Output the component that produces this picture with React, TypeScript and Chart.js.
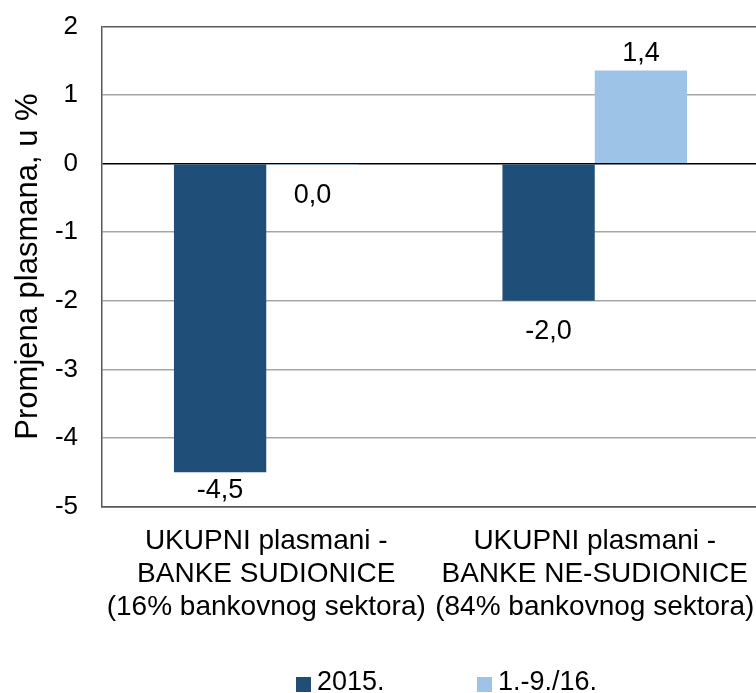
import React, { useEffect, useRef } from 'react';
import { Chart, registerables } from 'chart.js';

Chart.register(...registerables);

const categories: string[][] = [
  ['UKUPNI plasmani -', 'BANKE SUDIONICE', '(16% bankovnog sektora)'],
  ['UKUPNI plasmani -', 'BANKE NE-SUDIONICE', '(84% bankovnog sektora)'],
];
const seriesNames = ['2015.', '1.-9./16.'];
const values2015 = [-4.5, -2.0];
const values2016 = [-0.02, 1.36];
const seriesColors = ['#1F4E78', '#9DC3E6'];
const yMin = -5;
const yMax = 2;
const yStep = 1;
const yTitle = 'Promjena plasmana, u %';

const FONT = '"Liberation Sans", Arial, sans-serif';
const CLEAR = 'rgba(0,0,0,0)';

const fmt = (v: number) => (Math.round(v * 10) / 10).toFixed(1).replace('.', ',');

const valueLabels = {
  id: 'valueLabels',
  afterDatasetsDraw(chart: any) {
    const ctx = chart.ctx;
    ctx.save();
    ctx.font = `27px ${FONT}`;
    ctx.fillStyle = '#000';
    ctx.textAlign = 'center';
    ctx.textBaseline = 'middle';
    chart.data.datasets.forEach((ds: any, di: number) => {
      const meta = chart.getDatasetMeta(di);
      meta.data.forEach((el: any, i: number) => {
        const v = ds.data[i] as number;
        const y = v >= 0 ? el.y - 17 : Math.min(el.y + 31, chart.chartArea.bottom - 16);
        ctx.fillText(fmt(v), el.x, y);
      });
    });
    ctx.restore();
  },
};

const customLegend = {
  id: 'customLegend',
  afterDraw(chart: any) {
    const ctx = chart.ctx;
    ctx.save();
    ctx.font = `27px ${FONT}`;
    ctx.fillStyle = '#000';
    ctx.textAlign = 'left';
    ctx.textBaseline = 'alphabetic';
    const boxXs = [296, 477];
    const baseline = 690;
    chart.data.datasets.forEach((ds: any, i: number) => {
      const bx = boxXs[i];
      ctx.fillStyle = ds.backgroundColor;
      ctx.fillRect(bx, 677, 15, 15);
      ctx.fillStyle = '#000';
      ctx.fillText(ds.label, bx + 21, baseline);
    });
    ctx.restore();
  },
};

export default function App() {
  const ref = useRef<HTMLCanvasElement | null>(null);

  useEffect(() => {
    if (!ref.current) return;
    const chart = new Chart(ref.current, {
      type: 'bar',
      data: {
        labels: categories,
        datasets: [
          { label: seriesNames[0], data: values2015, backgroundColor: seriesColors[0], borderWidth: 0 },
          { label: seriesNames[1], data: values2016, backgroundColor: seriesColors[1], borderWidth: 0 },
        ],
      },
      options: {
        responsive: false,
        animation: false,
        devicePixelRatio: 1,
        layout: { padding: { top: 26.5, right: 3, left: 0, bottom: 0 } },
        datasets: { bar: { categoryPercentage: 0.562, barPercentage: 1 } },
        plugins: {
          legend: { display: false },
          tooltip: { enabled: false },
        },
        scales: {
          x: {
            grid: {
              display: true,
              drawOnChartArea: false,
              color: CLEAR,
              drawTicks: true,
              tickLength: 18,
              tickColor: CLEAR,
            },
            border: { display: true, color: '#595959', width: 1.5 },
            ticks: {
              color: '#000',
              font: { family: FONT, size: 28, lineHeight: 1.18 },
              padding: 0,
              maxRotation: 0,
              minRotation: 0,
              autoSkip: false,
            },
            afterFit: (s: any) => {
              s.height = 186.5;
            },
          },
          y: {
            min: yMin,
            max: yMax,
            ticks: {
              stepSize: yStep,
              color: '#000',
              font: { family: FONT, size: 26 },
              padding: 0,
              callback: (v: any) => String(v),
            },
            grid: {
              drawTicks: true,
              tickLength: 24,
              tickColor: CLEAR,
              color: (c: any) => {
                const v = c.tick?.value;
                if (v === 0) return '#000000';
                if (v === yMax || v === yMin) return '#595959';
                return '#A6A6A6';
              },
              lineWidth: 1.5,
            },
            border: { display: true, color: '#595959', width: 1.5 },
            title: {
              display: true,
              text: yTitle,
              color: '#000',
              font: { family: FONT, size: 31 },
              padding: { top: 10, bottom: 0 },
            },
            afterFit: (s: any) => {
              s.width = 102;
            },
          },
        },
      },
      plugins: [valueLabels, customLegend],
    });
    return () => chart.destroy();
  }, []);

  return (
    <div
      style={{
        position: 'absolute',
        left: 0,
        top: 0,
        width: 756,
        height: 693,
        overflow: 'hidden',
        background: '#fff',
      }}
    >
      <canvas ref={ref} width={762} height={693} style={{ width: 762, height: 693, display: 'block' }} />
    </div>
  );
}
